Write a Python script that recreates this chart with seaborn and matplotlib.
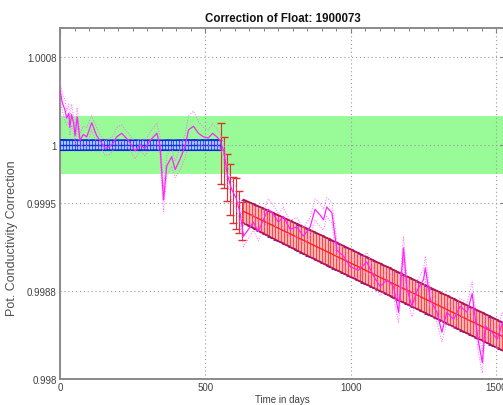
import matplotlib
matplotlib.use("Agg")
import matplotlib.pyplot as plt
from matplotlib.ticker import MultipleLocator, FixedLocator
import seaborn as sns
import numpy as np

# ---------------- data ----------------
title = "Correction of Float: 1900073"
xlabel = "Time in days"
ylabel = "Pot. Conductivity Correction"
xticks = [0, 500, 1000, 1500]
yticks = [0.998, 0.99875, 0.9995, 1.0, 1.00075]
ytick_labels = ["0.998", "0.9988", "0.9995", "1", "1.0008"]

band_low, band_high = 0.99975, 1.00025

# 1-1 profile fit (magenta) and its error
mag_days = [0, 8, 17, 23, 30, 34, 40, 47, 52, 59,
            69, 80, 92, 109, 126, 140, 155, 172, 184, 195,
            212, 235, 258, 275, 292, 310, 333, 344, 356, 367,
            384, 396, 413, 430, 442, 459, 476, 493, 510, 525,
            539, 550, 563, 575, 590, 605, 619, 631, 648, 665,
            682, 699, 716, 733, 751, 768, 791, 814, 837, 860,
            877, 895, 906, 917, 935, 952, 975, 998, 1026, 1055,
            1078, 1101, 1124, 1147, 1164, 1181, 1193, 1210, 1228, 1250,
            1256, 1273, 1296, 1313, 1330, 1353, 1376, 1400, 1417, 1428,
            1440, 1452, 1462, 1480, 1503, 1521, 1535]
mag_vals = [1.00047, 1.00036, 1.00030, 1.00023, 1.00027, 1.00015, 1.00026, 1.00018, 1.00008, 1.00024,
            1.00004, 1.00009, 1.00007, 1.00019, 1.00008, 1.00003, 0.99997, 0.99999, 1.00002, 1.00007,
            1.00010, 1.00004, 0.99995, 1.00000, 0.99997, 1.00004, 1.00010, 0.99999, 0.99953, 0.99982,
            0.99990, 0.99979, 0.99988, 0.99999, 1.00013, 1.00016, 1.00010, 1.00007, 1.00006, 1.00010,
            1.00007, 1.00004, 0.99995, 0.99975, 0.99962, 0.99955, 0.99942, 0.99922, 0.99928, 0.99934,
            0.99926, 0.99936, 0.99945, 0.99941, 0.99934, 0.99939, 0.99928, 0.99930, 0.99922, 0.99930,
            0.99945, 0.99940, 0.99936, 0.99947, 0.99942, 0.99910, 0.99905, 0.99896, 0.99893, 0.99900,
            0.99888, 0.99879, 0.99885, 0.99879, 0.99857, 0.99912, 0.99877, 0.99862, 0.99876, 0.99885,
            0.99895, 0.99868, 0.99857, 0.99840, 0.99857, 0.99851, 0.99862, 0.99857, 0.99873, 0.99851,
            0.99830, 0.99814, 0.99845, 0.99842, 0.99834, 0.99848, 0.99840]
mag_err = [0.00008, 0.00007, 0.00009, 0.00006, 0.00008, 0.00007, 0.00009, 0.00006, 0.00007, 0.00008,
           0.00006, 0.00007, 0.00008, 0.00006, 0.00007, 0.00005, 0.00006, 0.00007, 0.00006, 0.00008,
           0.00007, 0.00006, 0.00007, 0.00005, 0.00006, 0.00007, 0.00009, 0.00008, 0.00010, 0.00009,
           0.00008, 0.00007, 0.00009, 0.00010, 0.00012, 0.00013, 0.00010, 0.00008, 0.00007, 0.00008,
           0.00007, 0.00006, 0.00008, 0.00007, 0.00008, 0.00009, 0.00008, 0.00009, 0.00008, 0.00007,
           0.00008, 0.00007, 0.00009, 0.00008, 0.00007, 0.00008, 0.00007, 0.00008, 0.00007, 0.00008,
           0.00009, 0.00010, 0.00009, 0.00008, 0.00009, 0.00008, 0.00007, 0.00008, 0.00007, 0.00008,
           0.00007, 0.00008, 0.00007, 0.00008, 0.00009, 0.00010, 0.00008, 0.00009, 0.00008, 0.00009,
           0.00010, 0.00008, 0.00009, 0.00008, 0.00009, 0.00008, 0.00007, 0.00008, 0.00010, 0.00009,
           0.00010, 0.00009, 0.00008, 0.00009, 0.00008, 0.00009, 0.00008]

# uncorrected part (blue)
blue_days = [0, 10, 20, 30, 40, 50, 60, 70, 80, 90, 100, 110, 120, 130,
             140, 150, 160, 170, 180, 190, 200, 210, 220, 230, 240, 250, 260, 270,
             280, 290, 300, 310, 320, 330, 340, 350, 360, 370, 380, 390, 400, 410,
             420, 430, 440, 450, 460, 470, 480, 490, 500, 510, 520, 530, 540, 550]
blue_corr = [1.0, 1.0, 1.0, 1.0, 1.0, 1.0, 1.0, 1.0, 1.0, 1.0, 1.0, 1.0, 1.0, 1.0,
             1.0, 1.0, 1.0, 1.0, 1.0, 1.0, 1.0, 1.0, 1.0, 1.0, 1.0, 1.0, 1.0, 1.0,
             1.0, 1.0, 1.0, 1.0, 1.0, 1.0, 1.0, 1.0, 1.0, 1.0, 1.0, 1.0, 1.0, 1.0,
             1.0, 1.0, 1.0, 1.0, 1.0, 1.0, 1.0, 1.0, 1.0, 1.0, 1.0, 1.0, 1.0, 1.0]
blue_err = [0.000045, 0.000046, 0.000045, 0.000044, 0.000045, 0.000043, 0.000044, 0.000045, 0.000043, 0.000044,
            0.000043, 0.000044, 0.000043, 0.000042, 0.000043, 0.000044, 0.000043, 0.000042, 0.000043, 0.000042,
            0.000043, 0.000042, 0.000043, 0.000042, 0.000043, 0.000042, 0.000043, 0.000042, 0.000043, 0.000042,
            0.000043, 0.000042, 0.000043, 0.000042, 0.000043, 0.000042, 0.000043, 0.000044, 0.000043, 0.000042,
            0.000043, 0.000044, 0.000043, 0.000044, 0.000045, 0.000044, 0.000045, 0.000044, 0.000043, 0.000044,
            0.000043, 0.000044, 0.000045, 0.000044, 0.000045, 0.000044]

# transition (large error bars)
trans_days = [555, 565, 575, 585, 595, 605, 615, 625]
trans_corr = [0.99993, 0.99985, 0.99972, 0.99962, 0.99953, 0.99950, 0.99943, 0.99935]
trans_err = [0.00026, 0.00022, 0.00020, 0.00022, 0.00020, 0.00022, 0.00018, 0.00016]

# drift correction (red)
red_days = [630, 640, 650, 660, 670, 680, 690, 700, 710, 720,
            730, 740, 750, 760, 770, 780, 790, 800, 810, 820,
            830, 840, 850, 860, 870, 880, 890, 900, 910, 920,
            930, 940, 950, 960, 970, 980, 990, 1000, 1010, 1020,
            1030, 1040, 1050, 1060, 1070, 1080, 1090, 1100, 1110, 1120,
            1130, 1140, 1150, 1160, 1170, 1180, 1190, 1200, 1210, 1220,
            1230, 1240, 1250, 1260, 1270, 1280, 1290, 1300, 1310, 1320,
            1330, 1340, 1350, 1360, 1370, 1380, 1390, 1400, 1410, 1420,
            1430, 1440, 1450, 1460, 1470, 1480, 1490, 1500, 1510, 1520,
            1530]
red_corr = [0.999434, 0.999422, 0.999410, 0.999398, 0.999386, 0.999374, 0.999362, 0.999350, 0.999338, 0.999326,
            0.999314, 0.999302, 0.999290, 0.999278, 0.999266, 0.999254, 0.999242, 0.999230, 0.999218, 0.999206,
            0.999194, 0.999182, 0.999170, 0.999158, 0.999146, 0.999134, 0.999122, 0.999110, 0.999098, 0.999086,
            0.999074, 0.999062, 0.999050, 0.999038, 0.999026, 0.999014, 0.999002, 0.998990, 0.998978, 0.998966,
            0.998954, 0.998942, 0.998930, 0.998918, 0.998906, 0.998894, 0.998882, 0.998870, 0.998858, 0.998846,
            0.998834, 0.998822, 0.998810, 0.998798, 0.998786, 0.998774, 0.998762, 0.998750, 0.998738, 0.998726,
            0.998714, 0.998702, 0.998690, 0.998678, 0.998666, 0.998654, 0.998642, 0.998630, 0.998618, 0.998606,
            0.998594, 0.998582, 0.998570, 0.998558, 0.998546, 0.998534, 0.998522, 0.998510, 0.998498, 0.998486,
            0.998474, 0.998462, 0.998450, 0.998438, 0.998426, 0.998414, 0.998402, 0.998390, 0.998378, 0.998366,
            0.998354]
red_err = [0.000100, 0.000101, 0.000102, 0.000103, 0.000104, 0.000105, 0.000106, 0.000107, 0.000108, 0.000109,
           0.000110, 0.000110, 0.000111, 0.000111, 0.000112, 0.000112, 0.000113, 0.000113, 0.000114, 0.000114,
           0.000115, 0.000115, 0.000115, 0.000116, 0.000116, 0.000116, 0.000117, 0.000117, 0.000117, 0.000117,
           0.000118, 0.000118, 0.000118, 0.000118, 0.000118, 0.000118, 0.000118, 0.000118, 0.000118, 0.000118,
           0.000118, 0.000118, 0.000118, 0.000118, 0.000118, 0.000118, 0.000118, 0.000118, 0.000118, 0.000118,
           0.000119, 0.000119, 0.000119, 0.000119, 0.000119, 0.000119, 0.000119, 0.000119, 0.000119, 0.000119,
           0.000119, 0.000119, 0.000119, 0.000119, 0.000119, 0.000119, 0.000119, 0.000119, 0.000119, 0.000119,
           0.000120, 0.000120, 0.000120, 0.000120, 0.000120, 0.000120, 0.000120, 0.000120, 0.000120, 0.000120,
           0.000120, 0.000120, 0.000120, 0.000120, 0.000120, 0.000120, 0.000120, 0.000120, 0.000120, 0.000120,
           0.000120]

# ---------------- style ----------------
sns.set_style("white")
plt.rcParams['font.family'] = ['Liberation Sans', 'DejaVu Sans']

W, H = 503, 406
fig = plt.figure(figsize=(W / 100, H / 100), dpi=100)
ax = fig.add_axes([60 / W, 26 / H, 445 / W, 351 / H])
ax.set_xlim(0, 1530)
ax.set_ylim(0.998, 1.001)

# green tolerance band
ax.axhspan(band_low, band_high, color='#98fb98', zorder=0.5, lw=0)

# blue (no correction)
bd = np.array(blue_days); bc = np.array(blue_corr); be = np.array(blue_err)
ax.fill_between(bd, bc - be, bc + be, color='#a9c8f5', lw=0, zorder=2)
ax.errorbar(bd, bc, yerr=be, fmt='-', color='#1030e0', ecolor='#1a40ff',
            elinewidth=0.6, capsize=1.6, capthick=0.8, lw=1.0, zorder=3)
ax.plot(bd, bc + be, color='#0020d0', lw=0.9, zorder=3)
ax.plot(bd, bc - be, color='#0020d0', lw=0.9, zorder=3)

# red drift correction
rd = np.array(red_days); rc = np.array(red_corr); re_ = np.array(red_err)
ax.fill_between(rd, rc - re_, rc + re_, color='#ffb4b4', lw=0, zorder=2)
_, rcaps, _ = ax.errorbar(rd, rc, yerr=re_, fmt='-', color='#ff2020', ecolor='#ff3030',
                          elinewidth=0.6, capsize=1.6, capthick=0.8, lw=1.0, zorder=3)
for c in rcaps:
    c.set_markeredgecolor('#3040ff')
ax.plot(rd, rc + re_, color='#c01040', lw=1.2, zorder=3)
ax.plot(rd, rc - re_, color='#c01040', lw=1.2, zorder=3)

# transition bars
ax.errorbar(trans_days, trans_corr, yerr=trans_err, fmt='none', ecolor='#e03030',
            elinewidth=0.8, capsize=3, capthick=1.0, zorder=3)

# magenta profile fit with dotted error envelope
md = np.array(mag_days); mv = np.array(mag_vals); me = np.array(mag_err)
sns.lineplot(x=md, y=mv + me, color='#ff66ff', lw=0.7, linestyle=':', ax=ax, zorder=4)
sns.lineplot(x=md, y=mv - me, color='#ff66ff', lw=0.7, linestyle=':', ax=ax, zorder=4)
sns.lineplot(x=md, y=mv, color='#ff22ff', lw=0.9, ax=ax, zorder=5)

# axes cosmetics
ax.xaxis.set_major_locator(FixedLocator(xticks))
ax.xaxis.set_minor_locator(MultipleLocator(50))
ax.set_yticks(yticks)
ax.set_yticklabels(ytick_labels)
ax.tick_params(which='both', direction='in', top=True, right=True, colors='#808080',
               labelcolor='#404040', labelsize=7, pad=2.5)
ax.tick_params(which='major', length=3.5, width=0.8)
ax.tick_params(which='minor', length=2, width=0.7)
ax.grid(True, which='major', linestyle=(0, (1, 2.5)), color='#999999', lw=0.8, zorder=1)
for s in ax.spines.values():
    s.set_color('#8a8a8a')
    s.set_linewidth(1.4)

ax.set_title(title, fontsize=8.3, fontweight='bold', pad=5, color='#111111')
ax.set_xlabel(xlabel, fontsize=7, color='#404040', labelpad=1)
ax.set_ylabel(ylabel, fontsize=9, color='#505050')
ax.yaxis.set_label_coords(-0.094, 0.405)

fig.savefig("out.png", dpi=100)
